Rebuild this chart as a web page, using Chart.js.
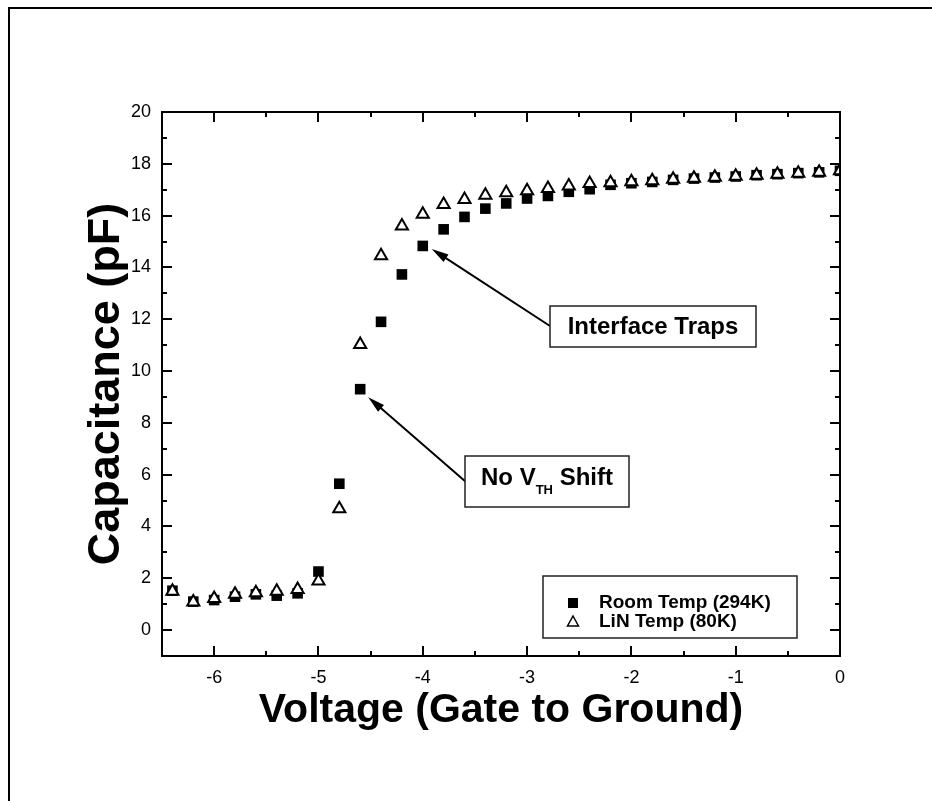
<!DOCTYPE html>
<html>
<head>
<meta charset="utf-8">
<script src="https://cdn.jsdelivr.net/npm/chart.js@4.4.1/dist/chart.umd.min.js"></script>
<style>
  html, body { margin: 0; padding: 0; background: #fff; }
  #wrap { width: 932px; height: 801px; position: relative; }
</style>
</head>
<body>
<div id="wrap"><canvas id="c" width="932" height="801"></canvas></div>
<script>
// ---------- data ----------
const voltage = [-6.4,-6.2,-6.0,-5.8,-5.6,-5.4,-5.2,-5.0,-4.8,-4.6,-4.4,-4.2,-4.0,-3.8,-3.6,-3.4,-3.2,-3.0,-2.8,-2.6,-2.4,-2.2,-2.0,-1.8,-1.6,-1.4,-1.2,-1.0,-0.8,-0.6,-0.4,-0.2,0.0];
const roomTemp = [1.52,1.10,1.16,1.29,1.38,1.33,1.42,2.26,5.65,9.30,11.90,13.73,14.83,15.47,15.95,16.27,16.47,16.66,16.76,16.92,17.02,17.19,17.25,17.30,17.38,17.43,17.47,17.51,17.56,17.60,17.64,17.67,17.73];
const linTemp  = [1.50,1.08,1.22,1.38,1.44,1.50,1.57,1.90,4.68,11.02,14.45,15.60,16.05,16.43,16.62,16.79,16.88,16.96,17.05,17.14,17.24,17.27,17.31,17.35,17.40,17.44,17.48,17.52,17.56,17.60,17.64,17.67,17.73];
const seriesLabels = ['Room Temp (294K)', 'LiN Temp (80K)'];
const xTickValues = [-6,-5,-4,-3,-2,-1,0];
const yTickValues = [0,2,4,6,8,10,12,14,16,18,20];
const xTitle = 'Voltage (Gate to Ground)';
const yTitle = 'Capacitance (pF)';
const annoTraps = { text: 'Interface Traps', x: -4.0, y: 14.83 };
const annoVth = { main: 'No V', sub: 'TH', rest: ' Shift', x: -4.6, y: 9.30 };

const FONT = 'Arial, "Liberation Sans", sans-serif';

function toPoints(xs, ys) { return xs.map((x, i) => ({ x: x, y: ys[i] })); }

// ---------- plugins ----------
const framePlugin = {
  id: 'frame',
  beforeDraw(chart) {
    const ctx = chart.ctx;
    ctx.save();
    ctx.fillStyle = '#fff';
    ctx.fillRect(0, 0, chart.width, chart.height);
    ctx.strokeStyle = '#000';
    ctx.lineWidth = 2;
    ctx.beginPath();
    ctx.moveTo(9, 801);
    ctx.lineTo(9, 8);
    ctx.lineTo(932, 8);
    ctx.stroke();
    ctx.restore();
  }
};

const axesBoxPlugin = {
  id: 'axesBox',
  afterDatasetsDraw(chart) {
    const ctx = chart.ctx;
    const a = chart.chartArea;
    const xs = chart.scales.x, ys = chart.scales.y;
    ctx.save();
    ctx.strokeStyle = '#000';
    ctx.lineWidth = 2;
    ctx.strokeRect(a.left, a.top, a.right - a.left, a.bottom - a.top);
    const MAJ = 10, MIN = 5;
    ctx.beginPath();
    const xt = xs.ticks.map(t => t.value);
    const xMinor = [];
    for (let i = 0; i < xt.length - 1; i++) xMinor.push((xt[i] + xt[i + 1]) / 2);
    xMinor.push(xt[0] - (xt[1] - xt[0]) / 2);
    xt.forEach(v => {
      const p = Math.round(xs.getPixelForValue(v));
      ctx.moveTo(p, a.bottom); ctx.lineTo(p, a.bottom - MAJ);
      ctx.moveTo(p, a.top); ctx.lineTo(p, a.top + MAJ);
    });
    xMinor.forEach(v => {
      if (v < xs.min || v > xs.max) return;
      const p = Math.round(xs.getPixelForValue(v));
      ctx.moveTo(p, a.bottom); ctx.lineTo(p, a.bottom - MIN);
      ctx.moveTo(p, a.top); ctx.lineTo(p, a.top + MIN);
    });
    const yt = ys.ticks.map(t => t.value);
    const yMinor = [];
    for (let i = 0; i < yt.length - 1; i++) yMinor.push((yt[i] + yt[i + 1]) / 2);
    yMinor.push(yt[0] - (yt[1] - yt[0]) / 2);
    yt.forEach(v => {
      const p = Math.round(ys.getPixelForValue(v));
      ctx.moveTo(a.left, p); ctx.lineTo(a.left + MAJ, p);
      ctx.moveTo(a.right, p); ctx.lineTo(a.right - MAJ, p);
    });
    yMinor.forEach(v => {
      if (v < ys.min || v > ys.max) return;
      const p = Math.round(ys.getPixelForValue(v));
      ctx.moveTo(a.left, p); ctx.lineTo(a.left + MIN, p);
      ctx.moveTo(a.right, p); ctx.lineTo(a.right - MIN, p);
    });
    ctx.stroke();
    ctx.restore();
  }
};

function arrow(ctx, x0, y0, x1, y1) {
  const ang = Math.atan2(y1 - y0, x1 - x0);
  const L = 17, W = 4.5;
  ctx.beginPath();
  ctx.moveTo(x0, y0);
  ctx.lineTo(x1 - Math.cos(ang) * L * 0.8, y1 - Math.sin(ang) * L * 0.8);
  ctx.stroke();
  ctx.beginPath();
  ctx.moveTo(x1, y1);
  ctx.lineTo(x1 - Math.cos(ang) * L - Math.sin(ang) * W, y1 - Math.sin(ang) * L + Math.cos(ang) * W);
  ctx.lineTo(x1 - Math.cos(ang) * L + Math.sin(ang) * W, y1 - Math.sin(ang) * L - Math.cos(ang) * W);
  ctx.closePath();
  ctx.fill();
}

const annotationPlugin = {
  id: 'annos',
  afterDatasetsDraw(chart) {
    const ctx = chart.ctx;
    const a = chart.chartArea;
    const xs = chart.scales.x, ys = chart.scales.y;
    ctx.save();
    ctx.strokeStyle = '#000';
    ctx.fillStyle = '#000';
    ctx.lineWidth = 2;

    // Interface Traps
    let bx = a.left + 388, by = a.top + 194, bw = 206, bh = 41;
    let px = xs.getPixelForValue(annoTraps.x) + 9, py = ys.getPixelForValue(annoTraps.y) + 3;
    arrow(ctx, bx, by + 20, px, py);
    ctx.fillStyle = '#fff';
    ctx.fillRect(bx, by, bw, bh);
    ctx.lineWidth = 1.5;
    ctx.strokeStyle = '#222';
    ctx.strokeRect(bx, by, bw, bh);
    ctx.fillStyle = '#000';
    ctx.font = 'bold 24px ' + FONT;
    ctx.textAlign = 'center';
    ctx.textBaseline = 'middle';
    ctx.fillText(annoTraps.text, bx + bw / 2, by + bh / 2 + 1);

    // No VTH Shift
    ctx.lineWidth = 2;
    ctx.strokeStyle = '#000';
    bx = a.left + 303; by = a.top + 344; bw = 164; bh = 51;
    px = xs.getPixelForValue(annoVth.x) + 8; py = ys.getPixelForValue(annoVth.y) + 8;
    arrow(ctx, bx + 1, by + 26, px, py);
    ctx.fillStyle = '#fff';
    ctx.fillRect(bx, by, bw, bh);
    ctx.lineWidth = 1.5;
    ctx.strokeStyle = '#222';
    ctx.strokeRect(bx, by, bw, bh);
    ctx.fillStyle = '#000';
    ctx.textAlign = 'left';
    ctx.textBaseline = 'alphabetic';
    ctx.font = 'bold 24px ' + FONT;
    const w1 = ctx.measureText(annoVth.main).width;
    ctx.font = 'bold 13px ' + FONT;
    const w2 = ctx.measureText(annoVth.sub).width;
    ctx.font = 'bold 24px ' + FONT;
    const w3 = ctx.measureText(annoVth.rest).width;
    let tx = bx + (bw - (w1 + w2 + w3)) / 2;
    const base = by + 29;
    ctx.fillText(annoVth.main, tx, base);
    ctx.font = 'bold 13px ' + FONT;
    ctx.fillText(annoVth.sub, tx + w1, base + 9);
    ctx.font = 'bold 24px ' + FONT;
    ctx.fillText(annoVth.rest, tx + w1 + w2, base);

    ctx.restore();
  }
};

const legendPlugin = {
  id: 'boxLegend',
  afterDatasetsDraw(chart) {
    const ctx = chart.ctx;
    const a = chart.chartArea;
    const bx = a.left + 381, by = a.top + 464, bw = 254, bh = 62;
    ctx.save();
    ctx.fillStyle = '#fff';
    ctx.fillRect(bx, by, bw, bh);
    ctx.strokeStyle = '#222';
    ctx.lineWidth = 1.5;
    ctx.strokeRect(bx, by, bw, bh);
    ctx.font = 'bold 19px ' + FONT;
    ctx.textBaseline = 'middle';
    ctx.textAlign = 'left';
    chart.data.datasets.forEach((ds, i) => {
      const cy = by + 27 + i * 19;
      const mx = bx + 30;
      ctx.fillStyle = '#000';
      ctx.strokeStyle = '#000';
      if (ds.pointStyle === 'rect') {
        ctx.fillRect(mx - 5, cy - 5, 10, 10);
      } else {
        ctx.lineWidth = 1.5;
        ctx.beginPath();
        ctx.moveTo(mx, cy - 6);
        ctx.lineTo(mx + 5.5, cy + 4);
        ctx.lineTo(mx - 5.5, cy + 4);
        ctx.closePath();
        ctx.stroke();
      }
      ctx.fillStyle = '#000';
      ctx.fillText(ds.label, bx + 56, cy);
    });
    ctx.restore();
  }
};

// ---------- chart ----------
new Chart(document.getElementById('c'), {
  type: 'scatter',
  data: {
    datasets: [
      {
        label: seriesLabels[0],
        data: toPoints(voltage, roomTemp),
        pointStyle: 'rect',
        pointRadius: 7.5,
        pointHoverRadius: 7.5,
        backgroundColor: '#000',
        borderColor: '#000',
        borderWidth: 0,
        order: 1
      },
      {
        label: seriesLabels[1],
        data: toPoints(voltage, linTemp),
        pointStyle: 'triangle',
        pointRadius: 7,
        pointHoverRadius: 7,
        backgroundColor: '#fff',
        borderColor: '#000',
        borderWidth: 2,
        order: 0
      }
    ]
  },
  options: {
    responsive: false,
    animation: false,
    events: [],
    layout: { padding: { left: 0, top: 112, right: 92, bottom: 0 } },
    plugins: { legend: { display: false }, tooltip: { enabled: false } },
    scales: {
      x: {
        type: 'linear',
        min: -6.5,
        max: 0,
        afterBuildTicks: s => { s.ticks = xTickValues.map(v => ({ value: v })); },
        afterFit: s => { s.height = 145; },
        grid: { display: false, drawTicks: false },
        border: { display: false },
        ticks: { color: '#000', padding: 11, font: { family: FONT, size: 18 }, maxRotation: 0, autoSkip: false },
        title: { display: true, text: xTitle, color: '#000', font: { family: FONT, size: 41, weight: 'bold' }, padding: { top: 0, bottom: 66 } }
      },
      y: {
        type: 'linear',
        min: -1,
        max: 20,
        afterBuildTicks: s => { s.ticks = yTickValues.map(v => ({ value: v })); },
        afterFit: s => { s.width = 162; },
        grid: { display: false, drawTicks: false },
        border: { display: false },
        ticks: { color: '#000', padding: 11, font: { family: FONT, size: 18 }, autoSkip: false },
        title: { display: true, text: yTitle, color: '#000', font: { family: FONT, size: 45, weight: 'bold' }, padding: { top: 80, bottom: 0 } }
      }
    }
  },
  plugins: [framePlugin, axesBoxPlugin, annotationPlugin, legendPlugin]
});
</script>
</body>
</html>
